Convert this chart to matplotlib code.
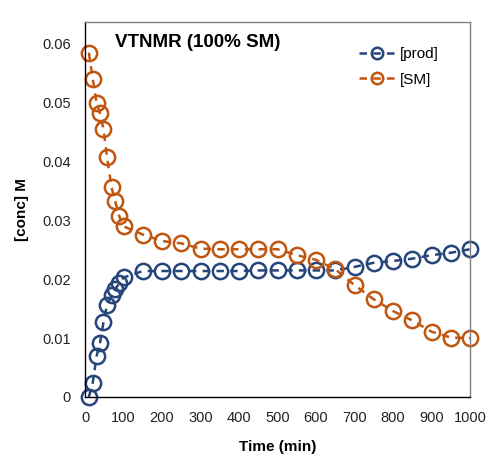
import matplotlib
matplotlib.use("Agg")
import matplotlib.pyplot as plt
from matplotlib.ticker import FuncFormatter, MultipleLocator

plt.rcParams['font.family'] = ['Liberation Sans', 'DejaVu Sans']

time_min = [10, 20, 30, 39, 48, 57, 69, 78, 89, 100,
            150, 200, 250, 300, 350, 400, 450, 500, 550, 600,
            650, 700, 750, 800, 850, 900, 950, 1000]
prod = [0.0, 0.0024, 0.0069, 0.0092, 0.0127, 0.0156, 0.0173, 0.0183, 0.0193, 0.0203,
        0.0214, 0.0214, 0.0214, 0.0214, 0.0214, 0.0214, 0.0215, 0.0215, 0.0215, 0.0215,
        0.0215, 0.0221, 0.0228, 0.0231, 0.0235, 0.0241, 0.0245, 0.0251]
sm = [0.0585, 0.0541, 0.0500, 0.0482, 0.0455, 0.0408, 0.0356, 0.0333, 0.0307, 0.0290,
      0.0276, 0.0265, 0.0261, 0.0252, 0.0251, 0.0251, 0.0251, 0.0251, 0.0241, 0.0233,
      0.0217, 0.0190, 0.0166, 0.0146, 0.0130, 0.0111, 0.0101, 0.0100]

title = "VTNMR (100% SM)"
xlabel = "Time (min)"
ylabel = "[conc] M"
series_labels = ["[prod]", "[SM]"]
colors = ["#26457A", "#C0560F"]

fig = plt.figure(figsize=(4.93, 4.55), dpi=100)
ax = fig.add_axes([85/493, 1-397/455, (470-85)/493, (397-22)/455])

for y, lab, c in zip([prod, sm], series_labels, colors):
    ax.plot(time_min, y, linestyle=(0, (3, 2.5)), color=c, linewidth=1.8,
            marker='o', markersize=11, markerfacecolor='none',
            markeredgecolor=c, markeredgewidth=1.8, label=lab, clip_on=False)

ax.set_xlim(0, 1000)
ax.set_ylim(0, 0.0637)
ax.xaxis.set_major_locator(MultipleLocator(100))
ax.yaxis.set_major_locator(MultipleLocator(0.01))
ax.yaxis.set_major_formatter(FuncFormatter(lambda v, p: "0" if abs(v) < 1e-9 else f"{v:.2f}"))
ax.tick_params(length=0, labelsize=10.5, colors='#222222')
ax.tick_params(axis='x', pad=10)
ax.tick_params(axis='y', pad=10)

for s in ['left', 'bottom']:
    ax.spines[s].set_color('black')
    ax.spines[s].set_linewidth(1.0)
for s in ['top', 'right']:
    ax.spines[s].set_color('#808080')
    ax.spines[s].set_linewidth(1.0)

ax.set_xlabel(xlabel, fontsize=11, fontweight='bold', labelpad=11)
ax.set_ylabel(ylabel, fontsize=11, fontweight='bold', labelpad=10)

ax.text(78, 0.0603, title, fontsize=13.5, fontweight='bold', ha='left', va='center',
        transform=ax.transData)

leg = ax.legend(loc='upper left', bbox_to_anchor=((353-85)/385, (397-41)/375),
                frameon=False, fontsize=11, handlelength=2.4, handletextpad=0.3,
                labelspacing=0.75, borderaxespad=0, markerscale=0.75)

fig.savefig("out.png", dpi=100)
